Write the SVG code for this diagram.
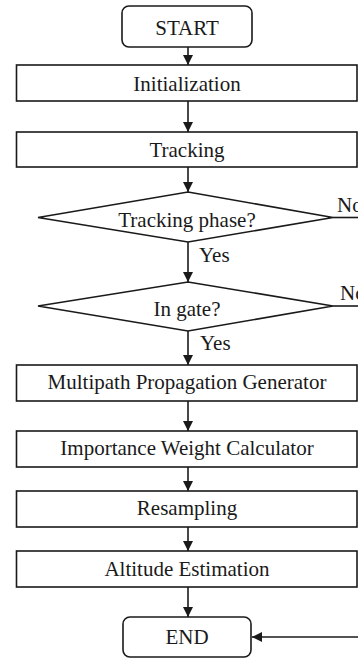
<svg xmlns="http://www.w3.org/2000/svg" width="358" height="658" viewBox="0 0 358 658">
  <style>
    .box { fill: #ffffff; stroke: #1a1a1a; stroke-width: 1.6; }
    .edge { fill: none; stroke: #1a1a1a; stroke-width: 1.6; }
    .label { font-family: "Liberation Serif", "Times New Roman", serif; font-size: 21px; fill: #1a1a1a; text-anchor: middle; }
    .tag { font-family: "Liberation Serif", "Times New Roman", serif; font-size: 21px; fill: #1a1a1a; }
  </style>
  <defs>
    <marker id="arrow" viewBox="0 0 10 10" refX="10" refY="5" markerWidth="10" markerHeight="10" markerUnits="userSpaceOnUse" orient="auto">
      <path d="M0,0 L10,5 L0,10 Z" fill="#1a1a1a"/>
    </marker>
  </defs>

  <rect width="358" height="658" fill="#ffffff"/>

  <g id="connectors">
    <line class="edge" x1="188" y1="47" x2="188" y2="65" marker-end="url(#arrow)"/>
    <line class="edge" x1="188" y1="101" x2="188" y2="132" marker-end="url(#arrow)"/>
    <line class="edge" x1="188" y1="167" x2="188" y2="192" marker-end="url(#arrow)"/>
    <line class="edge" x1="188" y1="242" x2="188" y2="282" marker-end="url(#arrow)"/>
    <line class="edge" x1="188" y1="331" x2="188" y2="365" marker-end="url(#arrow)"/>
    <line class="edge" x1="188" y1="401" x2="188" y2="431" marker-end="url(#arrow)"/>
    <line class="edge" x1="188" y1="467" x2="188" y2="491" marker-end="url(#arrow)"/>
    <line class="edge" x1="188" y1="527" x2="188" y2="551" marker-end="url(#arrow)"/>
    <line class="edge" x1="188" y1="587" x2="188" y2="617" marker-end="url(#arrow)"/>
    <!-- "No" branches leave to the right -->
    <line class="edge" x1="333" y1="217.5" x2="360" y2="217.5"/>
    <line class="edge" x1="333" y1="306" x2="360" y2="306"/>
    <!-- return path into END -->
    <line class="edge" x1="360" y1="637" x2="252" y2="637" marker-end="url(#arrow)"/>
    <text class="tag" x="337" y="212">No</text>
    <text class="tag" x="340" y="300">No</text>
    <text class="tag" x="199" y="262">Yes</text>
    <text class="tag" x="200" y="350">Yes</text>
  </g>

  <g id="start">
    <rect class="box" x="122" y="6" width="130" height="41" rx="7"/>
    <text class="label" x="187" y="35">START</text>
  </g>

  <g id="initialization">
    <rect class="box" x="16.5" y="65" width="340.5" height="36"/>
    <text class="label" x="187" y="91">Initialization</text>
  </g>

  <g id="tracking">
    <rect class="box" x="16.5" y="132" width="340.5" height="35"/>
    <text class="label" x="187" y="157">Tracking</text>
  </g>

  <g id="tracking-phase">
    <polygon class="box" points="188,192 333,217.5 188,242 38,217.5"/>
    <text class="label" x="187" y="227">Tracking phase?</text>
  </g>

  <g id="in-gate">
    <polygon class="box" points="188,282 333,306 188,331 38,306"/>
    <text class="label" x="187" y="316">In gate?</text>
  </g>

  <g id="multipath">
    <rect class="box" x="16.5" y="365" width="340.5" height="36"/>
    <text class="label" x="187" y="389">Multipath Propagation Generator</text>
  </g>

  <g id="weight">
    <rect class="box" x="16.5" y="431" width="340.5" height="36"/>
    <text class="label" x="187" y="455">Importance Weight Calculator</text>
  </g>

  <g id="resampling">
    <rect class="box" x="16.5" y="491" width="340.5" height="36"/>
    <text class="label" x="187" y="515">Resampling</text>
  </g>

  <g id="altitude">
    <rect class="box" x="16.5" y="551" width="340.5" height="36"/>
    <text class="label" x="187" y="576">Altitude Estimation</text>
  </g>

  <g id="end">
    <rect class="box" x="123" y="617" width="128" height="40" rx="7"/>
    <text class="label" x="187" y="644">END</text>
  </g>
</svg>
